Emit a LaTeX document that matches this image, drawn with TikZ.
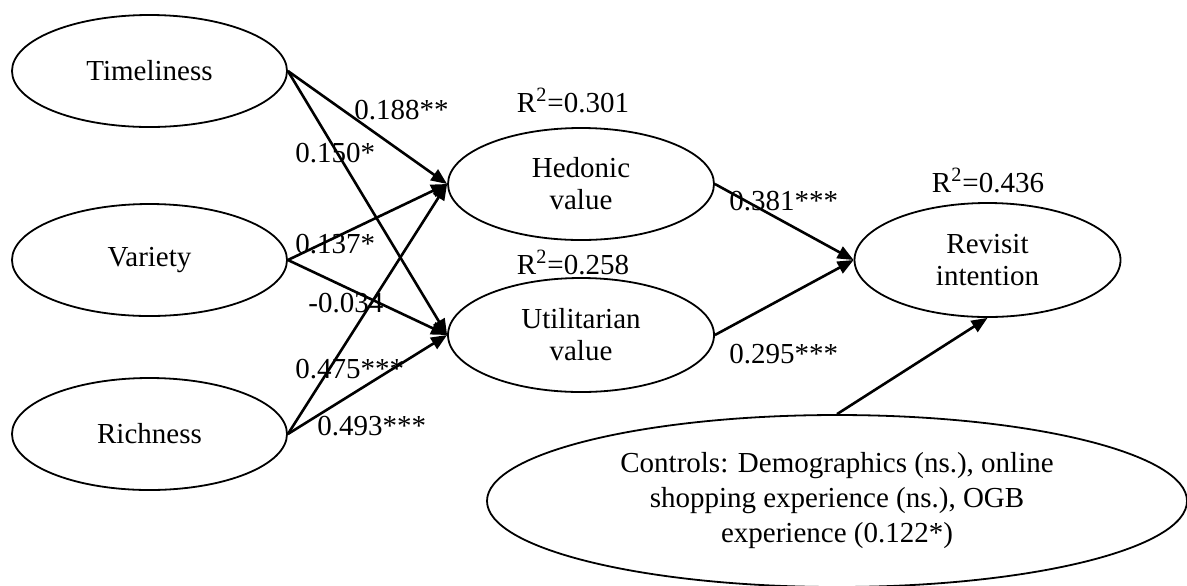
\documentclass[tikz,border=0pt]{standalone}
\usepackage{fontspec}
\setmainfont{Liberation Serif}
\usetikzlibrary{shapes.geometric,arrows.meta}

\begin{document}
\begin{tikzpicture}[x=0.5pt,y=-0.5pt,
   font=\fontsize{14.5}{16}\selectfont,
   latent/.style={draw,ellipse,line width=0.9pt,inner sep=0pt,align=center,
     minimum width=133pt,minimum height=56pt},
   effect/.style={-{Triangle[length=8pt,width=6.5pt]},line width=1.3pt},
   coef/.style={anchor=base west,inner sep=0pt},
   rsq/.style={anchor=base,inner sep=0pt}]
\useasboundingbox (0,0) rectangle (1187,585);
\node[latent,minimum width=137.5pt] (tim) at (149.5,71) {Timeliness};
\node[latent,minimum width=137.5pt] (var) at (149.5,260) {Variety};
\node[latent,minimum width=137.5pt] (ric) at (149.5,434) {Richness};
\node[latent] (hed) at (581,184) {Hedonic\\value};
\node[latent,minimum height=57pt] (uti) at (581,335) {Utilitarian\\value};
\node[latent,minimum height=57pt] (rev) at (987.5,260) {Revisit\\intention};
\node[latent,minimum width=350pt,minimum height=86pt,
   font=\fontsize{14.5}{17.5}\selectfont] (ctl) at (837,501)
   {Controls: Demographics (ns.), online\\shopping experience (ns.), OGB\\experience (0.122*)};

\draw[effect] (tim.east) -- (hed.west);
\draw[effect] (tim.east) -- (uti.west);
\draw[effect] (var.east) -- (hed.west);
\draw[effect] (var.east) -- (uti.west);
\draw[effect] (ric.east) -- (hed.west);
\draw[effect] (ric.east) -- (uti.west);
\draw[effect] (hed.east) -- (rev.west);
\draw[effect] (uti.east) -- (rev.west);
\draw[effect] (ctl.north) -- (rev.south);

\node[coef] (b188) at (354,119) {0.188**};
\node[coef] (b150) at (295,162) {0.150*};
\node[coef] (b137) at (295,253) {0.137*};
\node[coef] (b034) at (308,312) {-0.034};
\node[coef] (b475) at (295,378) {0.475***};
\node[coef] (b493) at (317,435) {0.493***};
\node[coef] (b381) at (729,210) {0.381***};
\node[coef] (b295) at (729,363) {0.295***};

\node[rsq] (rhed) at (573,112) {R\textsuperscript{2}=0.301};
\node[rsq] (ruti) at (573,274) {R\textsuperscript{2}=0.258};
\node[rsq] (rrev) at (988,192) {R\textsuperscript{2}=0.436};
\end{tikzpicture}
\end{document}
